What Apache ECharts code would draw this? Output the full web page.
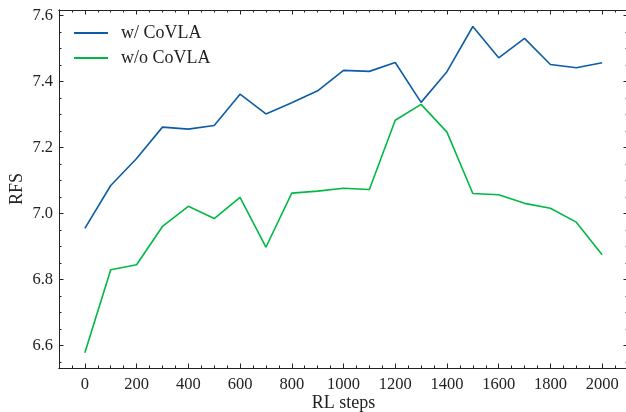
<!DOCTYPE html>
<html>
<head>
<meta charset="utf-8">
<script src="https://cdn.jsdelivr.net/npm/echarts@6/dist/echarts.min.js"></script>
<style>html,body{margin:0;padding:0;background:#fff}#c{width:626px;height:412px}</style>
</head>
<body>
<div id="c"></div>
<script>
const steps = [0,100,200,300,400,500,600,700,800,900,1000,1100,1200,1300,1400,1500,1600,1700,1800,1900,2000];
const withCoVLA = [6.955,7.085,7.167,7.262,7.256,7.267,7.362,7.302,7.336,7.372,7.434,7.431,7.458,7.337,7.430,7.567,7.472,7.531,7.452,7.442,7.457];
const withoutCoVLA = [6.578,6.830,6.845,6.961,7.022,6.985,7.049,6.898,7.062,7.068,7.077,7.073,7.283,7.331,7.247,7.061,7.057,7.031,7.016,6.974,6.875];
const seriesNames = ['w/ CoVLA','w/o CoVLA'];
const xMajor = [0,200,400,600,800,1000,1200,1400,1600,1800,2000];
const xMinor = [-50,50,100,150,250,300,350,450,500,550,650,700,750,850,900,950,1050,1100,1150,1250,1300,1350,1450,1500,1550,1650,1700,1750,1850,1900,1950,2050];
const yMajor = [6.6,6.8,7.0,7.2,7.4,7.6];
const yMinor = [6.55,6.65,6.7,6.75,6.85,6.9,6.95,7.05,7.1,7.15,7.25,7.3,7.35,7.45,7.5,7.55];
const xLabels = xMajor.map(String);
const yLabels = ['6.6','6.8','7.0','7.2','7.4','7.6'];

const FONT = 'Liberation Serif';
const TXT = '#222';
const X_MIN = -100, X_MAX = 2100, Y_MIN = 6.532, Y_MAX = 7.617;

function xAx(pos, values, len, labels, name) {
  return {
    type: 'value', min: X_MIN, max: X_MAX, position: pos,
    name: name || '', nameLocation: 'middle', nameGap: 26, nameMoveOverlap: false,
    nameTextStyle: {fontFamily: FONT, fontSize: 18, color: TXT},
    axisLine: {show: true, onZero: false, lineStyle: {color: '#222', width: 1}},
    axisTick: {show: true, inside: true, length: len, customValues: values, lineStyle: {color: '#222', width: 1}},
    axisLabel: labels ? {show: true, customValues: xMajor, formatter: v => xLabels[xMajor.indexOf(v)], fontFamily: FONT, fontSize: 16.5, color: TXT, margin: 8} : {show: false},
    splitLine: {show: false}
  };
}
function yAx(pos, values, len, labels, name) {
  return {
    type: 'value', min: Y_MIN, max: Y_MAX, position: pos,
    name: name || '', nameLocation: 'middle', nameGap: 33, nameMoveOverlap: false,
    nameTextStyle: {fontFamily: FONT, fontSize: 18, color: TXT},
    axisLine: {show: true, onZero: false, lineStyle: {color: '#222', width: 1}},
    axisTick: {show: true, inside: true, length: len, customValues: values, lineStyle: {color: '#222', width: 1}},
    axisLabel: labels ? {show: true, customValues: yMajor, formatter: v => { const i = yMajor.findIndex(m => Math.abs(m - v) < 1e-6); return i >= 0 ? yLabels[i] : ''; }, fontFamily: FONT, fontSize: 16.5, color: TXT, margin: 6} : {show: false},
    splitLine: {show: false}
  };
}

const chart = echarts.init(document.getElementById('c'), null, {renderer: 'canvas'});
chart.setOption({
  animation: false,
  backgroundColor: '#fff',
  grid: {left: 59, right: -2, top: 10, bottom: 44, containLabel: false, outerBoundsMode: 'none'},
  legend: {
    orient: 'vertical', left: 74, top: 24, padding: 0,
    icon: 'rect', itemWidth: 34, itemHeight: 2, itemGap: 7,
    textStyle: {fontFamily: FONT, fontSize: 18, color: TXT, padding: [0,0,0,8]},
    data: seriesNames
  },
  xAxis: [
    xAx('bottom', xMajor, 4.5, true, 'RL steps'),
    xAx('bottom', xMinor, 2.5, false),
    xAx('top', xMajor, 4.5, false),
    xAx('top', xMinor, 2.5, false)
  ],
  yAxis: [
    yAx('left', yMajor, 4.5, true, 'RFS'),
    yAx('left', yMinor, 2.5, false),
    yAx('right', yMajor, 4.5, false),
    yAx('right', yMinor, 2.5, false)
  ],
  series: [
    {name: seriesNames[0], type: 'line', xAxisIndex: 0, yAxisIndex: 0, symbol: 'none', lineStyle: {color: '#0C5DA5', width: 1.6}, itemStyle: {color: '#0C5DA5'}, data: steps.map((s, i) => [s, withCoVLA[i]])},
    {name: seriesNames[1], type: 'line', xAxisIndex: 0, yAxisIndex: 0, symbol: 'none', lineStyle: {color: '#00B945', width: 1.6}, itemStyle: {color: '#00B945'}, data: steps.map((s, i) => [s, withoutCoVLA[i]])}
  ]
});
</script>
</body>
</html>
